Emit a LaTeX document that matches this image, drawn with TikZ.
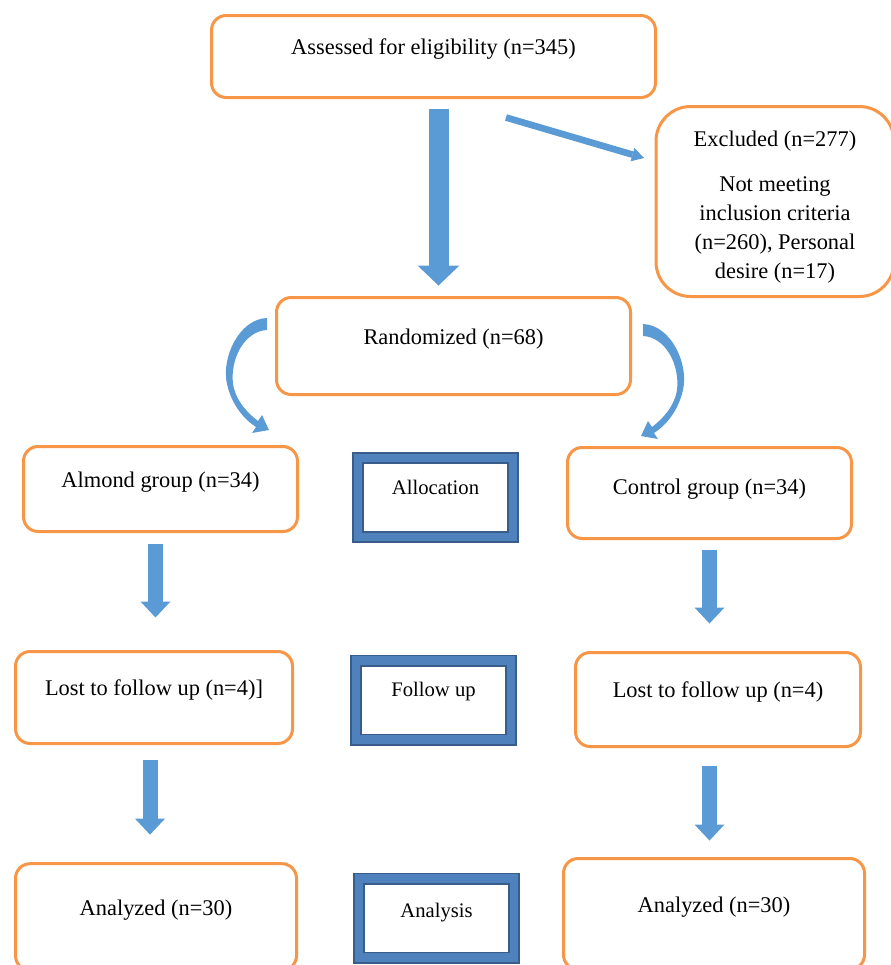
\documentclass[tikz,border=0pt]{standalone}
\usepackage{fontspec}
\setmainfont{Liberation Serif}
\usetikzlibrary{positioning, calc, arrows.meta}

\definecolor{boxorange}{RGB}{247,150,70}
\definecolor{arrowblue}{RGB}{91,155,213}
\definecolor{stageblue}{RGB}{79,129,189}
\definecolor{stagedark}{RGB}{56,93,138}

\tikzset{
  flowbox/.style={draw=boxorange, line width=2.25pt, rounded corners=11pt, fill=white,
    align=center, font=\fontsize{16.8}{21.75}\selectfont, text height=12pt, text depth=14.5pt},
  stagebox/.style={draw=stagedark, line width=1.3pt, double=stageblue, double distance=6.4pt,
    fill=white, font=\fontsize{15.5}{19}\selectfont, text height=11pt, text depth=16pt,
    minimum width=116.25pt, minimum height=59.25pt},
  blockarrow/.style={arrowblue, line width=11.25pt,
    -{Triangle[width=22.5pt, length=12pt, line width=0pt]}},
  bentarrow/.pic={
    \fill[arrowblue] (0,-6) .. controls (-28,-5) and (-46,34) .. (-40,60)
      .. controls (-35,82) and (-22,96) .. (-11,103) -- (-15,109) -- (2,106) -- (-5,91) -- (-9,97)
      .. controls (-18,90) and (-31,78) .. (-34,60) .. controls (-37,34) and (-22,7) .. (0,6) -- cycle;
  }
}

\begin{document}
\begin{tikzpicture}[x=0.75pt, y=-0.75pt]
    \useasboundingbox (0,0) rectangle (890,965);

    % Boxes
    \node[flowbox, minimum width=333pt, minimum height=61.5pt] (assess) at (433.5,56.5)
        {Assessed for eligibility (n=345)};
    \node[flowbox, rounded corners=26pt, minimum width=178.5pt, minimum height=142.5pt,
        text height=, text depth=] (excl) at (775,201.5)
        {\rule{0pt}{20.5pt}Excluded (n=277)\\[12pt]Not meeting\\inclusion criteria\\(n=260), Personal\\desire (n=17)};
    \node[flowbox, minimum width=265.5pt, minimum height=72.75pt] (rand) at (453.5,346)
        {Randomized (n=68)};
    \node[flowbox, minimum width=205.5pt, minimum height=63.75pt] (almond) at (160.5,489)
        {Almond group (n=34)};
    \node[flowbox, minimum width=213pt, minimum height=68.25pt, text depth=10pt] (control) at (709.5,493)
        {Control group (n=34)};
    \node[flowbox, minimum width=207.75pt, minimum height=69pt] (lostA) at (154,697.5)
        {Lost to follow up (n=4)]};
    \node[flowbox, minimum width=213.75pt, minimum height=70.5pt] (lostC) at (718,699.5)
        {Lost to follow up (n=4)};
    \node[flowbox, minimum width=210.75pt, minimum height=80pt] (anaA) at (156,917)
        {Analyzed (n=30)};
    \node[flowbox, minimum width=225.75pt, minimum height=83.25pt] (anaC) at (714,914)
        {Analyzed (n=30)};

    % Stages
    \node[stagebox] (alloc) at (435.5,497.5) {Allocation};
    \node[stagebox] (follow) at (433.5,700) {Follow up};
    \node[stagebox, text depth=12pt] (analysis) at (436.5,918) {Analysis};

    % Arrows
    \draw[blockarrow, line width=15pt, -{Triangle[width=31.5pt, length=15pt, line width=0pt]}]
        ($(assess.south)+(5,9.5)$) -- ($(assess.south |- rand.north)+(5,-10.5)$);
    \draw[blockarrow, line width=5pt, -{Triangle[width=10.5pt, length=9pt, line width=0pt]}]
        ($(assess.south)+(72.5,18.5)$) -- ($(excl.west)+(-10.5,-43.5)$);
    \pic at ($(rand.west)+(-8,-22)$) {bentarrow};
    \pic[xscale=-1] at ($(rand.east)+(11,-16)$) {bentarrow};
    \draw[blockarrow] ($(almond.south)+(-5,10.5)$) -- ($(almond.south |- lostA.north)+(-5,-32.5)$);
    \draw[blockarrow] ($(control.south)+(0,9.5)$) -- ($(control.south |- lostC.north)+(0,-27.5)$);
    \draw[blockarrow] ($(lostA.south)+(-4,14.5)$) -- ($(lostA.south |- anaA.north)+(-4,-27.5)$);
    \draw[blockarrow] ($(lostC.south)+(-8.5,17.5)$) -- ($(lostC.south |- anaC.north)+(-8.5,-16.5)$);
\end{tikzpicture}
\end{document}
